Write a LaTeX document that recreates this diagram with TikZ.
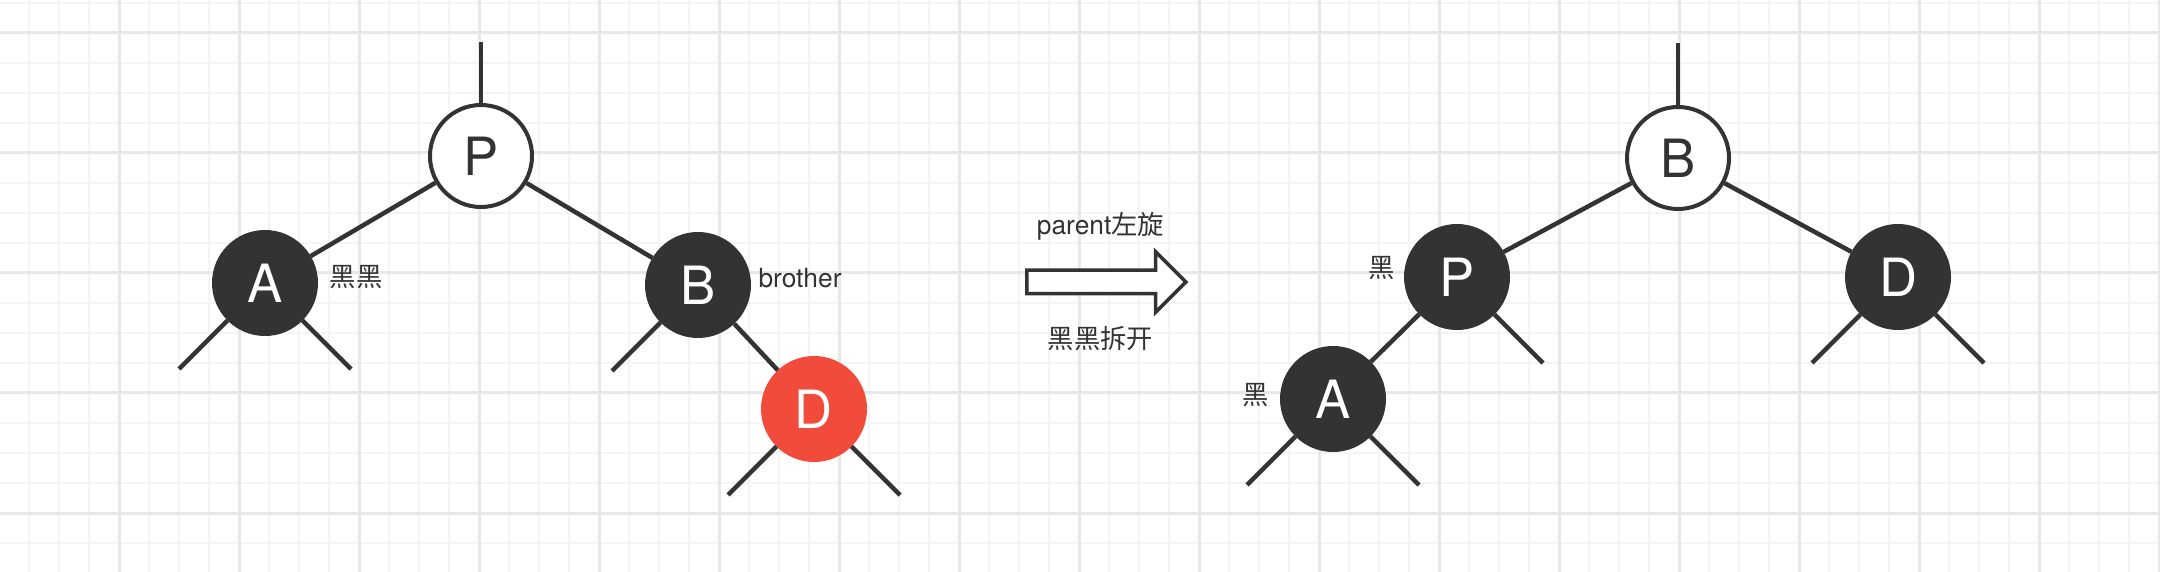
\documentclass[tikz,border=0pt]{standalone}
\usepackage{fontspec}
\setmainfont{TeX Gyre Heros}
\newfontfamily\cjk{Noto Sans CJK SC}
\usetikzlibrary{shapes.arrows,positioning}
\definecolor{ink}{HTML}{333333}
\definecolor{redfill}{HTML}{F14B3C}
\definecolor{gridminor}{HTML}{F4F4F4}
\definecolor{gridmajor}{HTML}{E8E8E8}
\tikzset{
whitenode/.style = {draw=ink, fill=white, circle, line width=0.04cm, minimum size=1.02cm, inner sep=0pt, text=ink, font=\fontsize{15}{15}\selectfont},
blacknode/.style = {whitenode, fill=ink, text=white},
rednode/.style   = {whitenode, draw=redfill, fill=redfill, text=white},
edge/.style      = {draw=ink, line width=0.045cm},
note/.style      = {text=ink, inner sep=0pt, font=\fontsize{7.5}{9}\selectfont},
turnarrow/.style = {single arrow, draw=ink, fill=white, line width=0.035cm, minimum height=1.59cm, minimum width=0.57cm, single arrow head extend=0.185cm, single arrow tip angle=90, inner sep=0.1cm},
minorline/.style = {draw=gridminor, line width=0.025cm},
majorline/.style = {draw=gridmajor, line width=0.03cm}
}

\begin{document}
\begin{tikzpicture}[on grid, node distance=1cm]
  \fill [white] (0,0) rectangle (21.6,-5.72);
  \useasboundingbox (0,0) rectangle (21.6,-5.72);
  \foreach \i in {0,...,71} \draw [minorline] ({0.29+0.3*\i},0) -- ++(0,-5.72);
  \foreach \i in {0,...,18} \draw [minorline] (0,{-0.03-0.3*\i}) -- ++(21.6,0);
  \foreach \i in {0,...,17} \draw [majorline] ({1.19+1.2*\i},0) -- ++(0,-5.72);
  \foreach \i in {0,...,4}  \draw [majorline] (0,{-0.33-1.2*\i}) -- ++(21.6,0);

  % before
  \node [whitenode] at (4.81,-1.56)                     (P1)     {P};
  \coordinate [above=1.14cm of P1]                      (P1top);
  \node [blacknode, below left=1.27cm and 2.16cm of P1]  (A1)     {A};
  \node [blacknode, below right=1.29cm and 2.17cm of P1] (B1)     {B};
  \node [rednode, below right=1.24cm and 1.16cm of B1]   (D1)     {D};
  \coordinate [below left=0.86cm and 0.86cm of A1]      (A1l);
  \coordinate [below right=0.86cm and 0.86cm of A1]     (A1r);
  \coordinate [below left=0.86cm and 0.86cm of B1]      (B1l);
  \coordinate [below left=0.86cm and 0.86cm of D1]      (D1l);
  \coordinate [below right=0.86cm and 0.86cm of D1]     (D1r);
  \node [note, right=0.91cm of A1, yshift=0.06cm]       (A1mark) {\cjk 黑黑};
  \node [note, right=1.02cm of B1, yshift=0.07cm]       (B1mark) {brother};

  \draw [edge] (P1top) -- (P1);
  \draw [edge] (P1) -- (A1);
  \draw [edge] (P1) -- (B1);
  \draw [edge] (B1) -- (D1);
  \draw [edge] (A1) -- (A1l);
  \draw [edge] (A1) -- (A1r);
  \draw [edge] (B1) -- (B1l);
  \draw [edge] (D1) -- (D1l);
  \draw [edge] (D1) -- (D1r);

  % rotation
  \node [turnarrow] at (11.005,-2.82)                   (turn)   {};
  \node [note, above=0.56cm of turn]                    (turnup) {parent{\cjk 左旋}};
  \node [note, below=0.57cm of turn]                    (turndn) {\cjk 黑黑拆开};

  % after
  \node [whitenode] at (16.78,-1.58)                    (B2)     {B};
  \coordinate [above=1.15cm of B2]                      (B2top);
  \node [blacknode, below left=1.19cm and 2.21cm of B2]  (P2)     {P};
  \node [blacknode, below right=1.19cm and 2.20cm of B2] (D2)     {D};
  \node [blacknode, below left=1.22cm and 1.24cm of P2]  (A2)     {A};
  \coordinate [below right=0.86cm and 0.86cm of P2]     (P2r);
  \coordinate [below left=0.86cm and 0.86cm of D2]      (D2l);
  \coordinate [below right=0.86cm and 0.86cm of D2]     (D2r);
  \coordinate [below left=0.86cm and 0.86cm of A2]      (A2l);
  \coordinate [below right=0.86cm and 0.86cm of A2]     (A2r);
  \node [note, left=0.75cm of P2, yshift=0.09cm]        (P2mark) {\cjk 黑};
  \node [note, left=0.77cm of A2, yshift=0.04cm]        (A2mark) {\cjk 黑};

  \draw [edge] (B2top) -- (B2);
  \draw [edge] (B2) -- (P2);
  \draw [edge] (B2) -- (D2);
  \draw [edge] (P2) -- (A2);
  \draw [edge] (P2) -- (P2r);
  \draw [edge] (D2) -- (D2l);
  \draw [edge] (D2) -- (D2r);
  \draw [edge] (A2) -- (A2l);
  \draw [edge] (A2) -- (A2r);
\end{tikzpicture}
\end{document}
